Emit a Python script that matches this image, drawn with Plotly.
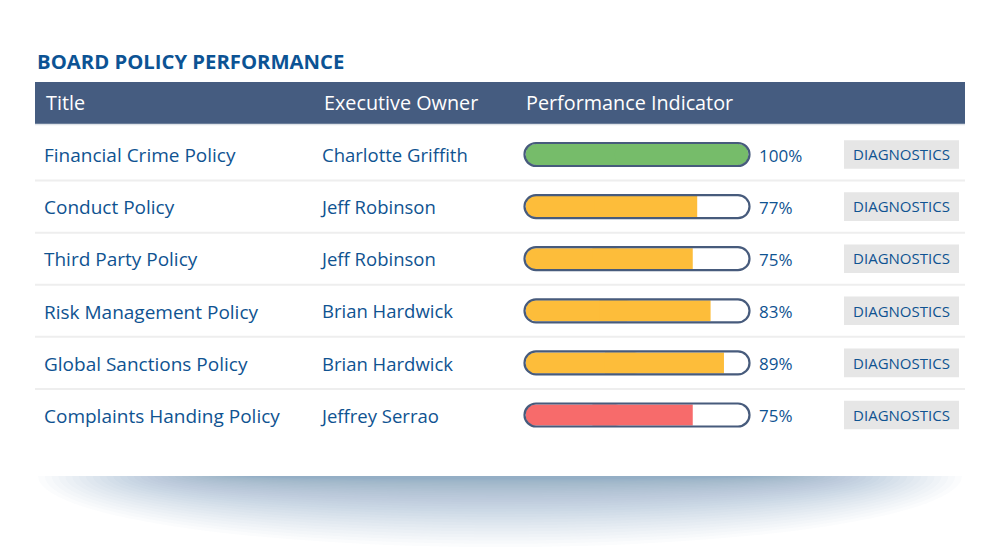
import plotly.graph_objects as go

# ---- data ----
titles = ["Financial Crime Policy", "Conduct Policy", "Third Party Policy",
          "Risk Management Policy", "Global Sanctions Policy", "Complaints Handing Policy"]
owners = ["Charlotte Griffith", "Jeff Robinson", "Jeff Robinson",
          "Brian Hardwick", "Brian Hardwick", "Jeffrey Serrao"]
performance = [100, 77, 75, 83, 89, 75]
status = ["good", "warn", "warn", "warn", "warn", "bad"]
headers = ["Title", "Executive Owner", "Performance Indicator"]
chart_title = "BOARD POLICY PERFORMANCE"
button_label = "DIAGNOSTICS"

# ---- style ----
W, H = 1000, 559
ROW0, ROWH = 154.5, 52.1          # pixel centre of first row, row pitch
FONT = "Open Sans"
BLUE = "#0f5391"
HEAD_BG = "#455c80"
OUTLINE = "#475b7c"
STATUS_COL = {"good": "#76bc6a", "warn": "#fdbd3a", "bad": "#f76b6b"}
fill_cols = [STATUS_COL[s] for s in status]
n = len(titles)
rows = list(range(n))
TXT_DY = 3 / ROWH

def pp(py):  # pixel y -> paper
    return 1 - py / H

fig = go.Figure()

# text columns
fig.add_trace(go.Scatter(x=[44] * n, y=[r + TXT_DY for r in rows], mode="text", text=titles,
                         textposition="middle right",
                         textfont=dict(family=FONT, size=19, color=BLUE),
                         hoverinfo="skip"))
fig.add_trace(go.Scatter(x=[322] * n, y=[r + TXT_DY for r in rows], mode="text", text=owners,
                         textposition="middle right",
                         textfont=dict(family=FONT, size=18.5, color=BLUE),
                         hoverinfo="skip"))
fig.add_trace(go.Scatter(x=[759] * n, y=[r + TXT_DY for r in rows], mode="text",
                         text=[f"{v}%" for v in performance],
                         textposition="middle right",
                         textfont=dict(family=FONT, size=17, color=BLUE),
                         hoverinfo="skip"))
fig.add_trace(go.Scatter(x=[901.5] * n, y=[r + 2 / ROWH for r in rows], mode="text",
                         text=[button_label] * n, textposition="middle center",
                         textfont=dict(family=FONT, size=15, color=BLUE),
                         hoverinfo="skip"))

# progress fills: overlapping left part (rounded start) and right part
BW = 21 / ROWH
left_len = [v * 0.6 for v in performance]
right_base = [v * 0.4 for v in performance]
fig.add_trace(go.Bar(y=rows, base=left_len, x=[-l for l in left_len], orientation="h",
                     width=BW, marker=dict(color=fill_cols, cornerradius=10, line_width=0),
                     xaxis="x2", yaxis="y", hoverinfo="skip"))
fig.add_trace(go.Bar(y=rows, base=right_base,
                     x=[v - b if v < 100 else None for b, v in zip(right_base, performance)],
                     orientation="h", width=BW,
                     marker=dict(color=fill_cols, line_width=0),
                     xaxis="x2", yaxis="y", hoverinfo="skip"))
fig.add_trace(go.Bar(y=rows, base=right_base,
                     x=[v - b if v >= 100 else None for b, v in zip(right_base, performance)],
                     orientation="h", width=BW,
                     marker=dict(color=fill_cols, cornerradius=10, line_width=0),
                     xaxis="x2", yaxis="y", hoverinfo="skip"))

shapes = []
# soft shadow under the card
NL = 32
for k in range(NL):
    t = k / (NL - 1)
    rx = 250 + 212 * t
    ry = 3 + 68 * t ** 1.5
    shapes.append(dict(type="circle", xref="x", yref="paper", layer="below",
                       x0=500 - rx, x1=500 + rx, y0=pp(476 + ry), y1=pp(476 - ry),
                       fillcolor="rgba(60,100,140,0.019)", line_width=0))
# card
shapes.append(dict(type="rect", xref="x", yref="paper", layer="below",
                   x0=35, x1=965, y0=pp(476), y1=pp(82),
                   fillcolor="white", line_width=0))
# header band
shapes.append(dict(type="rect", xref="x", yref="paper", layer="below",
                   x0=35, x1=965, y0=pp(124), y1=pp(82),
                   fillcolor=HEAD_BG, line_width=0))
shapes.append(dict(type="line", xref="x", yref="paper", layer="below",
                   x0=35, x1=965, y0=pp(124.5), y1=pp(124.5),
                   line=dict(color="#dfe3e8", width=1.5)))
# row separators
for r in rows[:-1]:
    shapes.append(dict(type="line", xref="x", yref="y", layer="below",
                       x0=35, x1=965, y0=r + 0.5, y1=r + 0.5,
                       line=dict(color="#eeeeee", width=2)))
# diagnostics buttons
for r in rows:
    shapes.append(dict(type="rect", xref="x", yref="y", layer="below",
                       x0=844, x1=959, y0=r - 0.274, y1=r + 0.274,
                       fillcolor="#e6e6e6", line_width=0))
# pill outlines
x0p, x1p, rad = 524.5, 749.5, 11.5
h = rad / ROWH
kk = 0.5523
for r in rows:
    yc = r
    path = (f"M {x0p+rad},{yc-h} L {x1p-rad},{yc-h} "
            f"C {x1p-rad+kk*rad},{yc-h} {x1p},{yc-kk*h} {x1p},{yc} "
            f"C {x1p},{yc+kk*h} {x1p-rad+kk*rad},{yc+h} {x1p-rad},{yc+h} "
            f"L {x0p+rad},{yc+h} "
            f"C {x0p+rad-kk*rad},{yc+h} {x0p},{yc+kk*h} {x0p},{yc} "
            f"C {x0p},{yc-kk*h} {x0p+rad-kk*rad},{yc-h} {x0p+rad},{yc-h} Z")
    shapes.append(dict(type="path", xref="x", yref="y", layer="above", path=path,
                       fillcolor="rgba(0,0,0,0)", line=dict(color=OUTLINE, width=2.2)))

annotations = [
    dict(x=35, y=pp(61), xref="x", yref="paper", text=f"<b>{chart_title}</b>",
         showarrow=False, xanchor="left", yanchor="middle",
         font=dict(family=FONT, size=20.3, color="#0c5394")),
]
for hx, ht in zip([44, 322, 524], headers):
    annotations.append(dict(x=hx, y=pp(103), xref="x", yref="paper", text=ht,
                            showarrow=False, xanchor="left", yanchor="middle",
                            font=dict(family=FONT, size=19.8, color="white")))

fig.update_layout(
    width=W, height=H, margin=dict(l=0, r=0, t=0, b=0),
    paper_bgcolor="white", plot_bgcolor="rgba(0,0,0,0)",
    showlegend=False, barmode="overlay",
    xaxis=dict(range=[0, W], domain=[0, 1], visible=False, fixedrange=True),
    xaxis2=dict(range=[0, 100], domain=[0.5255, 0.7485], anchor="y",
                visible=False, fixedrange=True),
    yaxis=dict(range=[(H - ROW0) / ROWH, -ROW0 / ROWH], domain=[0, 1],
               visible=False, fixedrange=True),
    shapes=shapes, annotations=annotations,
)

fig.write_html("out.html", config={"displayModeBar": False},
               post_script="document.body.style.margin='0';document.body.style.overflow='hidden';")
